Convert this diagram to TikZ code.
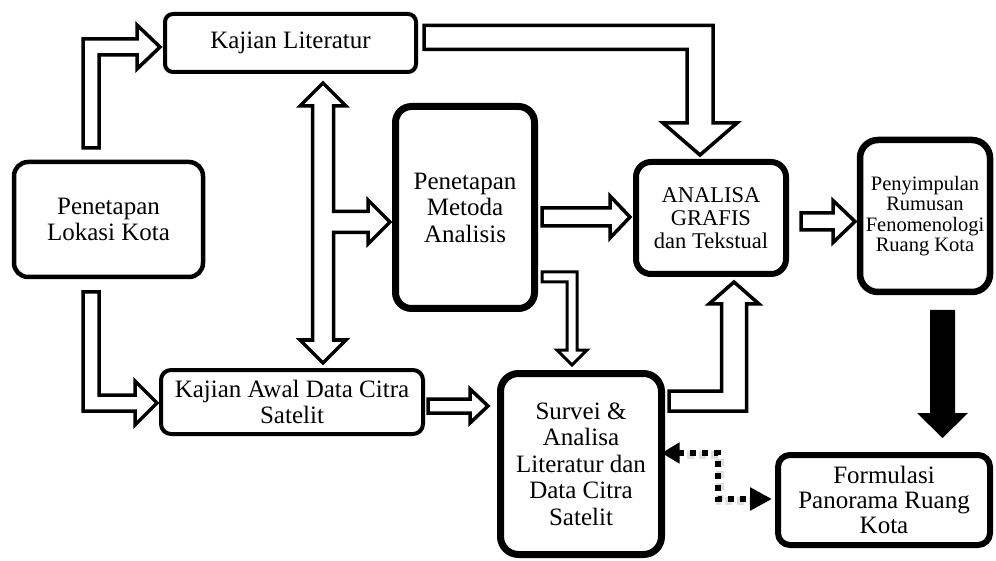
\documentclass[tikz,border=0pt]{standalone}
\usepackage{fontspec}
\setmainfont{Liberation Serif}
\usetikzlibrary{arrows.meta,calc}
\begin{document}
\begin{tikzpicture}[x=1pt,y=-1pt,
  every node/.style={font=\fontsize{25}{26.5}\selectfont},
  box/.style={draw, fill=white, align=center, inner sep=0pt},
  barrow/.style={draw, fill=white, line width=3.5pt, line join=miter, miter limit=10},
  dotline/.style={line width=6pt, dash pattern=on 6pt off 6pt, line cap=butt}]
\useasboundingbox (0,0) rectangle (996,561);

% boxes
\node[box, line width=4pt, rounded corners=8pt, minimum width=251pt, minimum height=58pt] (kl) at (290.5,43) {Kajian Literatur};
\node[box, line width=4.5pt, rounded corners=14pt, minimum width=189pt, minimum height=115pt] (plk) at (108.5,219.5) {Penetapan\\Lokasi Kota};
\node[box, line width=4pt, rounded corners=10pt, minimum width=262pt, minimum height=64pt] (ka) at (292,402) {Kajian Awal Data Citra\\Satelit};
\node[box, line width=7pt, rounded corners=16pt, minimum width=139pt, minimum height=202pt] (pma) at (465,207.5) {Penetapan\\Metoda\\Analisis};
\node[box, line width=6pt, rounded corners=15pt, minimum width=150pt, minimum height=112pt, font=\fontsize{22.5}{23}\selectfont] (ag) at (711,218) {ANALISA\\GRAFIS\\dan Tekstual};
\node[box, line width=6.5pt, rounded corners=18pt, minimum width=130pt, minimum height=152pt, font=\fontsize{20.5}{20.5}\selectfont] (prf) at (925,216) {Penyimpulan\\Rumusan\\Fenomenologi\\Ruang Kota};
\node[box, line width=7pt, rounded corners=18pt, minimum width=161pt, minimum height=181pt] (sv) at (581,464) {Survei \&\\Analisa\\Literatur dan\\Data Citra\\Satelit};
\node[box, line width=6pt, rounded corners=12pt, minimum width=212pt, minimum height=90pt, font=\fontsize{25}{25}\selectfont] (fr) at (884,500) {Formulasi\\Panorama Ruang\\Kota};

% block arrows
% Penetapan Lokasi -> Kajian Literatur
\draw[barrow] (83,148) -- (83,39) -- (137,39) -- (137,25) -- (160,47) -- (137,69) -- (137,55) -- (99,55) -- (99,148) -- cycle;
% Penetapan Lokasi -> Kajian Awal
\draw[barrow] (83,292) -- (83,411) -- (135,411) -- (135,425) -- (157,403) -- (135,381) -- (135,395) -- (99,395) -- (99,292) -- cycle;
% Kajian Literatur <-> Kajian Awal, branch to Penetapan Metoda
\draw[barrow] (323,83) -- (346,106) -- (333.5,106) -- (333.5,211.5) -- (368,211.5) -- (368,200) -- (390,222) -- (368,244) -- (368,232.5) -- (333.5,232.5) -- (333.5,340) -- (346,340) -- (323,363) -- (300,340) -- (312.5,340) -- (312.5,106) -- (300,106) -- cycle;
% Kajian Literatur -> ANALISA
\draw[barrow] (424,25.5) -- (713,25.5) -- (713,123) -- (737,123) -- (700,155) -- (663,123) -- (687,123) -- (687,49.5) -- (424,49.5) -- cycle;
% Penetapan Metoda -> ANALISA
\draw[barrow] (542,208) -- (610,208) -- (610,196) -- (630,217) -- (610,238) -- (610,226) -- (542,226) -- cycle;
% Penetapan Metoda -> Survei
\draw[barrow, line width=3pt] (542,272) -- (577,272) -- (577,350) -- (587,350) -- (572,365) -- (557,350) -- (567,350) -- (567,282) -- (542,282) -- cycle;
% Kajian Awal -> Survei
\draw[barrow] (428,399) -- (470,399) -- (470,389) -- (488,406) -- (470,423) -- (470,413) -- (428,413) -- cycle;
% Survei -> ANALISA
\draw[barrow] (669,391) -- (721.5,391) -- (721.5,304) -- (709,304) -- (734,282) -- (759,304) -- (746.5,304) -- (746.5,411) -- (669,411) -- cycle;
% ANALISA -> Penyimpulan
\draw[barrow] (801,213) -- (833,213) -- (833,200.5) -- (855,221.5) -- (833,242.5) -- (833,230) -- (801,230) -- cycle;
% Penyimpulan -> Formulasi (solid black)
\fill (930,310) -- (955,310) -- (955,413) -- (968,413) -- (942.5,438) -- (917,413) -- (930,413) -- cycle;

% dotted two-way connector Survei <-> Formulasi
\coordinate (d1) at (718,453);
\coordinate (d2) at (718,499);
\draw[black!25, line width=8pt, opacity=0.5, dash pattern=on 7pt off 5pt] ($(sv.east |- d1)+(22,2)$) -- ($(d1)+(1.5,2)$) -- ($(d2)+(1.5,2)$) -- ($(fr.west |- d2)+(-22,2)$);
\draw[dotline, {Triangle[length=18pt,width=20pt]}-{Triangle[length=22pt,width=22pt]}, shorten <=-3.5pt, shorten >=3pt]
  (sv.east |- d1) -- (d1) -- (d2) -- (fr.west |- d2);
\end{tikzpicture}
\end{document}
